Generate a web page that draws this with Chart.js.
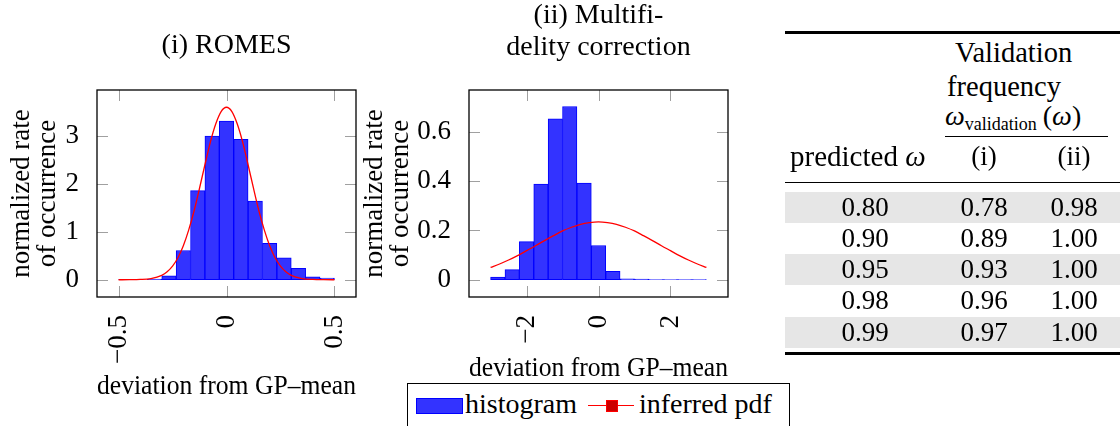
<!DOCTYPE html>
<html>
<head>
<meta charset="utf-8">
<script src="https://cdn.jsdelivr.net/npm/chart.js@4.4.0/dist/chart.umd.min.js"></script>
<style>
body{margin:0;width:1120px;height:426px;overflow:hidden;background:#fff;position:relative;font-family:"Liberation Serif",serif;color:#000}
canvas{position:absolute;top:0}
#c1{left:0}
#c2{left:353px}
.t{position:absolute;font-size:27px;line-height:31.3px;white-space:nowrap}
.c{width:120px;text-align:center}
.rule{position:absolute;background:#000}
#leg{position:absolute;left:407px;top:383px;width:383px;height:60px;border:1px solid #000;box-sizing:border-box;background:#fff;z-index:5}
</style>
</head>
<body>
<canvas id="c1" width="453" height="426"></canvas>
<canvas id="c2" width="491" height="426"></canvas>
<div id="tab"></div>
<div id="leg">
  <div style="position:absolute;left:8px;top:14px;width:45px;height:14px;background:#3333ff;border:1px solid #0000ff"></div>
  <div class="t" style="left:57px;top:4px;font-size:28px">histogram</div>
  <div style="position:absolute;left:180px;top:21px;width:46px;height:1.2px;background:#ff0000"></div>
  <div style="position:absolute;left:198px;top:16px;width:10px;height:10px;background:#cc0000;border:1px solid #ff0000"></div>
  <div class="t" style="left:231px;top:4px;font-size:28px">inferred pdf</div>
</div>
<script>
// (i) ROMES
var binMid1 = [-0.4667, -0.4, -0.3333, -0.2667, -0.2, -0.1333, -0.0667, 0, 0.0667, 0.1333, 0.2, 0.2667, 0.3333, 0.4, 0.4667];
var hist1 = [0.005, 0.0, 0.015, 0.08, 0.61, 1.86, 3.0, 3.31, 2.93, 1.64, 0.76, 0.46, 0.24, 0.06, 0.035];
var pdfX1 = [-0.5, -0.45, -0.4, -0.35, -0.3, -0.275, -0.25, -0.225, -0.2, -0.175, -0.15, -0.125, -0.1, -0.075, -0.05, -0.025, 0,
             0.025, 0.05, 0.075, 0.1, 0.125, 0.15, 0.175, 0.2, 0.225, 0.25, 0.275, 0.3, 0.35, 0.4, 0.45, 0.5];
var pdfY1 = [0, 0.001, 0.006, 0.025, 0.093, 0.167, 0.285, 0.46, 0.71, 1.04, 1.44, 1.91, 2.40, 2.87, 3.25, 3.51, 3.6,
             3.51, 3.25, 2.87, 2.40, 1.91, 1.44, 1.04, 0.71, 0.46, 0.285, 0.167, 0.093, 0.025, 0.006, 0.001, 0];
var xTicks1 = [-0.5, 0, 0.5];
var yTicks1 = [0, 1, 2, 3];

// (ii) Multifidelity correction
var binMid2 = [-2.8, -2.4, -2.0, -1.6, -1.2, -0.8, -0.4, 0, 0.4, 0.8, 1.2, 1.6, 2.0, 2.4, 2.8];
var hist2 = [0.011, 0.041, 0.155, 0.388, 0.653, 0.703, 0.392, 0.139, 0.034, 0.004, 0.003, 0.001, 0.001, 0.001, 0.001];
var pdfX2 = [-3, -2.75, -2.5, -2.25, -2, -1.75, -1.5, -1.25, -1, -0.75, -0.5, -0.25, 0,
             0.25, 0.5, 0.75, 1, 1.25, 1.5, 1.75, 2, 2.25, 2.5, 2.75, 3];
var pdfY2 = [0.050, 0.064, 0.080, 0.098, 0.118, 0.138, 0.159, 0.179, 0.198, 0.213, 0.225, 0.232, 0.235,
             0.232, 0.225, 0.213, 0.198, 0.179, 0.159, 0.138, 0.118, 0.098, 0.080, 0.064, 0.050];
var xTicks2 = [-2, 0, 2];
var yTicks2 = [0, 0.2, 0.4, 0.6];

// table
var predicted = [0.80, 0.90, 0.95, 0.98, 0.99];
var freqI = [0.78, 0.89, 0.93, 0.96, 0.97];
var freqII = [0.98, 1.00, 1.00, 1.00, 1.00];

var FONT = 'Liberation Serif';

function fmt(v) {
  var s = String(Math.abs(v));
  return v < 0 ? '\u2212' + s : s;
}

var frame = {
  id: 'frame',
  beforeDatasetsDraw: function(chart) {
    var c = chart.ctx, a = chart.chartArea, sx = chart.scales.x, sy = chart.scales.y;
    c.save();
    c.strokeStyle = '#a0a0a0';
    c.lineWidth = 1;
    c.beginPath();
    sx.ticks.forEach(function(t) {
      var p = Math.round(sx.getPixelForValue(t.value)) + 0.5;
      c.moveTo(p, a.top); c.lineTo(p, a.top + 11);
      c.moveTo(p, a.bottom); c.lineTo(p, a.bottom - 11);
    });
    sy.ticks.forEach(function(t) {
      var p = Math.round(sy.getPixelForValue(t.value)) + 0.5;
      c.moveTo(a.left, p); c.lineTo(a.left + 11, p);
      c.moveTo(a.right, p); c.lineTo(a.right - 11, p);
    });
    c.stroke();
    c.restore();
  },
  afterDatasetsDraw: function(chart) {
    var c = chart.ctx, a = chart.chartArea;
    c.save();
    c.strokeStyle = '#000';
    c.lineWidth = 1.3;
    c.strokeRect(a.left, a.top, a.right - a.left, a.bottom - a.top);
    c.restore();
  }
};

function drawHist(id, title, titlePad, mids, hist, px, py, xt, yt, xr, yr, sideW, xTitlePad) {
  var ctx = document.getElementById(id).getContext('2d');
  return new Chart(ctx, {
    type: 'bar',
    data: {
      datasets: [
        { type: 'bar', label: 'histogram',
          data: mids.map(function(m, i) { return { x: m, y: hist[i] }; }),
          backgroundColor: '#3333ff', borderColor: '#0000ff', borderWidth: 1,
          borderSkipped: false, barPercentage: 1, categoryPercentage: 1, order: 2 },
        { type: 'line', label: 'inferred pdf',
          data: px.map(function(x, i) { return { x: x, y: py[i] }; }),
          borderColor: '#ff0000', borderWidth: 1.3, pointRadius: 0,
          cubicInterpolationMode: 'monotone', fill: false, order: 1 }
      ]
    },
    options: {
      responsive: false,
      animation: false,
      layout: { padding: 0 },
      plugins: {
        legend: { display: false },
        tooltip: { enabled: false },
        title: { display: true, text: title, color: '#000',
                 font: { family: FONT, size: 28, weight: 'normal', lineHeight: '31.7px' },
                 padding: titlePad }
      },
      scales: {
        x: {
          type: 'linear', offset: false, min: xr[0], max: xr[1],
          afterBuildTicks: function(ax) { ax.ticks = xt.map(function(v) { return { value: v }; }); },
          afterFit: function(ax) { ax.height = 129; },
          grid: { display: false }, border: { display: false },
          ticks: { autoSkip: false, minRotation: 90, maxRotation: 90, padding: 10, color: '#000',
                   font: { family: FONT, size: 27 }, callback: function(v) { return fmt(v); } },
          title: { display: true, text: 'deviation from GP\u2013mean', color: '#000',
                   font: { family: FONT, size: 27.5, lineHeight: '26px' },
                   padding: { top: 0, bottom: xTitlePad } }
        },
        y: {
          type: 'linear', position: 'left', min: yr[0], max: yr[1],
          afterBuildTicks: function(ax) { ax.ticks = yt.map(function(v) { return { value: v }; }); },
          afterFit: function(ax) { ax.width = sideW; },
          grid: { display: false }, border: { display: false },
          ticks: { padding: 10, color: '#000', font: { family: FONT, size: 27 },
                   callback: function(v) { return fmt(v); } },
          title: { display: true, text: ['normalized rate', 'of occurrence'], color: '#000',
                   font: { family: FONT, size: 27, lineHeight: '26px' },
                   padding: { top: 9, bottom: 0 } }
        },
        yr: {
          type: 'linear', position: 'right', display: true,
          afterFit: function(ax) { ax.width = sideW; },
          grid: { display: false }, border: { display: false }, ticks: { display: false }
        }
      }
    },
    plugins: [frame]
  });
}

drawHist('c1', '(i) ROMES', { top: 30, bottom: 28.3 }, binMid1, hist1, pdfX1, pdfY1,
         xTicks1, yTicks1, [-0.6, 0.6], [-0.36, 3.96], 97, 26);
drawHist('c2', ['(ii) Multifi-', 'delity correction'], { top: 0, bottom: 26.6 }, binMid2, hist2, pdfX2, pdfY2,
         xTicks2, yTicks2, [-3.6, 3.6], [-0.07, 0.77], 116, 44);

// table
var tab = document.getElementById('tab');
function add(html, cls, style) {
  var d = document.createElement('div');
  d.className = cls;
  d.setAttribute('style', style);
  d.innerHTML = html;
  tab.appendChild(d);
}
var ROW0 = 191.5, ROWH = 31.3, colX = [865, 984, 1074];
add('', 'rule', 'left:785px;top:31px;width:335px;height:3.3px');
add('Validation', 't', 'left:955px;top:37px;font-size:28.5px');
add('frequency', 't', 'left:947px;top:71px;font-size:28.5px');
add('<i>\u03c9</i><span style="font-size:18px;position:relative;top:5px">validation</span><span style="margin-left:6px">(<i>\u03c9</i>)</span>',
    't', 'left:945px;top:100px;font-size:28px');
add('', 'rule', 'left:945px;top:135.5px;width:163px;height:1px');
add('predicted <i>\u03c9</i>', 't', 'left:790px;top:141px;font-size:29px');
add('(i)', 't c', 'left:' + (colX[1] - 60) + 'px;top:141px');
add('(ii)', 't c', 'left:' + (colX[2] - 60) + 'px;top:141px');
add('', 'rule', 'left:785px;top:181.5px;width:335px;height:1.5px');
predicted.forEach(function(p, i) {
  var top = ROW0 + i * ROWH;
  if (i % 2 === 0) add('', 'rule', 'left:785px;top:' + top + 'px;width:335px;height:' + ROWH + 'px;background:#e6e6e6');
  [p, freqI[i], freqII[i]].forEach(function(v, j) {
    add(v.toFixed(2), 't c', 'left:' + (colX[j] - 60) + 'px;top:' + top + 'px');
  });
});
add('', 'rule', 'left:785px;top:' + (ROW0 + 5 * ROWH + 4) + 'px;width:335px;height:3.3px');
</script>
</body>
</html>
